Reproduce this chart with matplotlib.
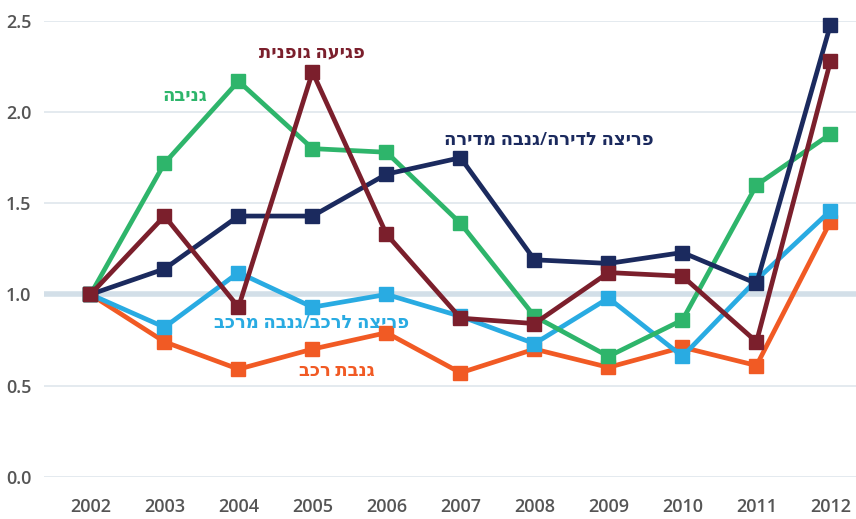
import matplotlib
matplotlib.use("Agg")
import matplotlib.pyplot as plt

# ── Data (index, 2002 = 1.0) ──────────────────────────────────────────────────
years = list(range(2002, 2013))

car_theft    = [1.0, 0.74, 0.59, 0.70, 0.79, 0.57, 0.70, 0.60, 0.71, 0.61, 1.40]
car_breakin  = [1.0, 0.82, 1.12, 0.93, 1.00, 0.88, 0.73, 0.98, 0.66, 1.08, 1.46]
theft        = [1.0, 1.72, 2.17, 1.80, 1.78, 1.39, 0.88, 0.66, 0.86, 1.60, 1.88]
home_breakin = [1.0, 1.14, 1.43, 1.43, 1.66, 1.75, 1.19, 1.17, 1.23, 1.06, 2.48]
assault      = [1.0, 1.43, 0.93, 2.22, 1.33, 0.87, 0.84, 1.12, 1.10, 0.74, 2.28]

series = [
    ("גנבת רכב",               car_theft,    "#f15a24"),
    ("פריצה לרכב/גנבה מרכב",   car_breakin,  "#29abe2"),
    ("גניבה",                  theft,        "#2eb56b"),
    ("פריצה לדירה/גנבה מדירה", home_breakin, "#1b2a5e"),
    ("פגיעה גופנית",           assault,      "#7b1f2c"),
]

# label anchor (x in years, y in data units)
label_pos = {
    "גנבת רכב":               (2005.33, 0.58),
    "פריצה לרכב/גנבה מרכב":   (2004.99, 0.845),
    "גניבה":                  (2003.27, 2.09),
    "פריצה לדירה/גנבה מדירה": (2008.20, 1.845),
    "פגיעה גופנית":           (2004.99, 2.33),
}

FONT = ["Open Sans", "DejaVu Sans"]
TICK_COL = "#555555"

fig = plt.figure(figsize=(8.56, 5.19), dpi=100, facecolor="white")
ax = fig.add_axes([0.0514, 0.0815, 0.9486, 0.878])

for yv in [0.0, 0.5, 1.5, 2.0, 2.5]:
    ax.axhline(yv, color="#dfe6ec", linewidth=1.2, zorder=0)
ax.axhline(1.0, color="#d3dfe8", linewidth=4, zorder=0)

for name, vals, col in series:
    ax.plot(years, vals, color=col, linewidth=3.4, marker="s",
            markersize=9.5, zorder=3, clip_on=False)
    lx, ly = label_pos[name]
    ax.text(lx, ly, name[::-1], color=col, fontsize=13, fontweight="semibold",
            ha="center", va="center", family=FONT, zorder=4)

ax.set_xlim(2002 - 46.5 / 74, 2012 + 25.5 / 74)
ax.set_ylim(0, 2.5)
ax.set_xticks(years)
ax.set_yticks([0.0, 0.5, 1.0, 1.5, 2.0, 2.5])
ax.set_yticklabels([f"{v:.1f}" for v in [0.0, 0.5, 1.0, 1.5, 2.0, 2.5]])
ax.tick_params(axis="both", length=0, labelsize=13, labelcolor=TICK_COL)
ax.tick_params(axis="x", pad=15)
ax.tick_params(axis="y", pad=9)
for lbl in ax.get_xticklabels() + ax.get_yticklabels():
    lbl.set_family(FONT)
    lbl.set_fontweight("semibold")
for s in ax.spines.values():
    s.set_visible(False)

fig.savefig("out.png", dpi=100, facecolor="white")
